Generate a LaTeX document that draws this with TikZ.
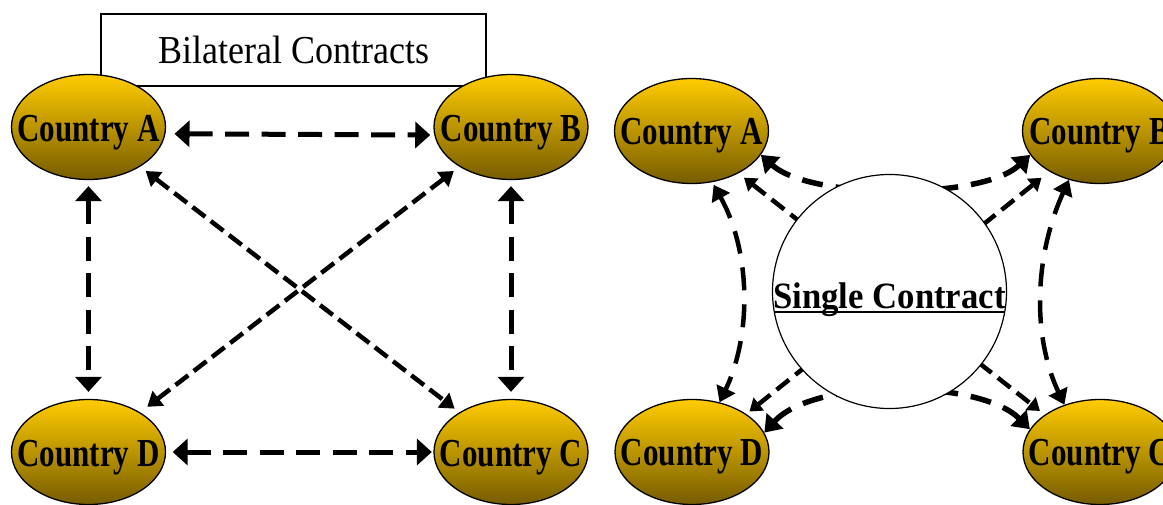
\documentclass[tikz,border=0pt]{standalone}
\usepackage{fontspec}
\setmainfont{Liberation Serif}
\usetikzlibrary{shapes.geometric,arrows.meta}
\definecolor{goldtop}{RGB}{255,204,0}
\definecolor{goldbot}{RGB}{118,92,0}
\begin{document}
\begin{tikzpicture}[x=1pt,y=-1pt,
  country/.style={ellipse, draw=black, line width=1.3pt, minimum width=154pt, minimum height=105pt, inner sep=0pt, top color=goldtop, bottom color=goldbot},
  ctext/.style={font=\fontsize{31}{31}\selectfont\bfseries, inner sep=0pt, anchor=base},
  bigdash/.style={line width=5pt, dash pattern=on 24pt off 12.5pt, >={Triangle[length=15pt,width=26pt]}, <->},
  meddash/.style={line width=4.5pt, dash pattern=on 16pt off 7pt, >={Triangle[length=14pt,width=18pt]}, <->},
  thickcurve/.style={line width=5.5pt, dash pattern=on 21pt off 13pt, >={Triangle[length=16pt,width=22pt]}, <->},
  curvedash/.style={line width=4.5pt, dash pattern=on 23pt off 14pt, >={Triangle[length=15pt,width=20pt]}, <->},
  thindash/.style={line width=4.5pt, dash pattern=on 16pt off 8pt, >={Triangle[length=12pt,width=16pt]}, <->}
]
\useasboundingbox (0,0) rectangle (1163,504);
% title box
\node[draw, line width=1.5pt, minimum width=385pt, minimum height=72pt, inner sep=0pt, font=\fontsize{36}{36}\selectfont] (BC) at (293.5,50) {\scalebox{1}[1.1]{Bilateral Contracts}};
% left countries
\node[country] (LA) at (88.5,127) {};
\node[country] (LB) at (511,127) {};
\node[country] (LD) at (88.5,452) {};
\node[country] (LC) at (511,452) {};
\node[ctext] (LAt) at ([yshift=-14pt]LA.center) {\scalebox{1}[1.28]{Country A}};
\node[ctext] (LBt) at ([yshift=-14pt]LB.center) {\scalebox{1}[1.28]{Country B}};
\node[ctext] (LDt) at ([yshift=-14pt]LD.center) {\scalebox{1}[1.28]{Country D}};
\node[ctext] (LCt) at ([yshift=-14pt]LC.center) {\scalebox{1}[1.28]{Country C}};
% left connectors
\draw[bigdash, shorten <=9pt, shorten >=4pt] (LA.-5.3) -- (LB.-174.4);
\draw[bigdash, shorten <=6.5pt, shorten >=1.5pt] (LD.east) -- (LC.west);
\draw[bigdash, shorten <=6pt, shorten >=7pt] (LA.south) -- (LD.north);
\draw[bigdash, shorten <=6pt, shorten >=7pt] (LB.south) -- (LC.north);
\draw[meddash, shorten <=7pt, shorten >=6pt] (LA) -- (LC);
\draw[meddash, shorten <=7pt, shorten >=9pt] (LB) -- (LD);
% right countries
\node[country] (RA) at (691.5,131) {};
\node[country] (RB) at (1099.5,131) {};
\node[country] (RD) at (692,452) {};
\node[country] (RC) at (1100,452) {};
\node[ctext] (RAt) at ([yshift=-13pt]RA.center) {\scalebox{1}[1.28]{Country A}};
\node[ctext] (RBt) at ([yshift=-13pt]RB.center) {\scalebox{1}[1.28]{Country B}};
\node[ctext] (RDt) at ([yshift=-13pt]RD.center) {\scalebox{1}[1.28]{Country D}};
\node[ctext] (RCt) at ([yshift=-13pt]RC.center) {\scalebox{1}[1.28]{Country C}};
% right connectors
\draw[curvedash, shorten <=3pt] (RA.-68) .. controls +(39,70) and +(32,-67) .. (RD.61);
\draw[curvedash] (RB.-122) .. controls +(-35,77) and +(-32,-68) .. (RC.127);
\draw[thickcurve] (RA.-19) .. controls +(50,45) and +(-48,45) .. (RB.-161);
\draw[thickcurve] (RD.15) .. controls +(50,-55) and +(-50,-50) .. (RC.162);
\draw[thindash, shorten <=7pt, shorten >=6pt] (RA.-42.4) -- (RC.146.3);
\draw[thindash, shorten <=10pt, shorten >=4pt] (RB.-141) -- (RD.35.5);
% single contract
\node[circle, draw, fill=white, line width=1.2pt, minimum size=234pt, inner sep=0pt] (SC) at (889.5,291.5) {};
\node[font=\fontsize{34.7}{35}\selectfont\bfseries, anchor=base, inner sep=0pt] (SCt) at ([yshift=-16.5pt]SC.center) {\scalebox{1}[1.07]{Single Contract}};
\draw[line width=1.5pt] (SC.190.6) -- (SC.-10.6);
\end{tikzpicture}
\end{document}
